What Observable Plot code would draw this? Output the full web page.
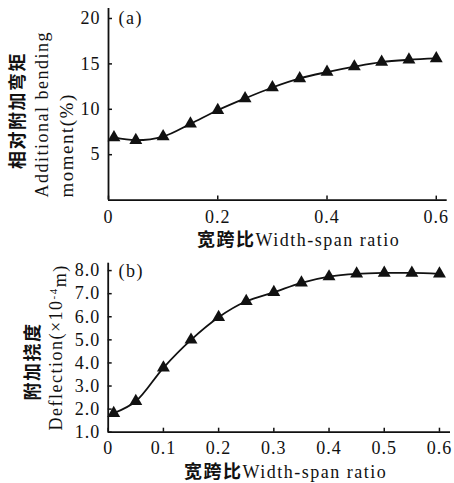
<!DOCTYPE html>
<html>
<head>
<meta charset="utf-8">
<script src="https://cdn.jsdelivr.net/npm/d3@7"></script>
<script src="https://cdn.jsdelivr.net/npm/@observablehq/plot@0.6"></script>
<style>
  html, body { margin: 0; padding: 0; background: #fff; }
  #chart svg { display: block; }
</style>
</head>
<body>
<div id="chart"></div>
<script>
// Width-span ratio (x) shared by both panels
const widthSpan = [0.01, 0.05, 0.1, 0.15, 0.2, 0.25, 0.3, 0.35, 0.4, 0.45, 0.5, 0.55, 0.6];
// (a) Additional bending moment (%)
const bendingMoment = [6.9, 6.6, 7.0, 8.4, 9.9, 11.2, 12.4, 13.4, 14.1, 14.7, 15.2, 15.45, 15.6];
// (b) Deflection (x10^-4 m)
const deflection = [1.82, 2.34, 3.79, 5.0, 5.98, 6.67, 7.06, 7.47, 7.74, 7.86, 7.9, 7.9, 7.86];

const xTicksA = [0, 0.2, 0.4, 0.6];
const yTicksA = [5, 10, 15, 20];
const xTicksB = [0, 0.1, 0.2, 0.3, 0.4, 0.5, 0.6];
const yTicksB = [1, 2, 3, 4, 5, 6, 7, 8];

const xTitleCn = "宽跨比";
const xTitleEn = "Width-span ratio";
const yTitleACn = "相对附加弯矩";
const yTitleAEn1 = "Additional bending";
const yTitleAEn2 = "moment(%)";
const yTitleBCn = "附加挠度";
const yTitleBEn = "Deflection(×10⁻⁴m)";

const dataA = widthSpan.map((x, i) => ({x, v: bendingMoment[i]}));
const dataB = widthSpan.map((x, i) => ({x, v: deflection[i]}));

const FONT = '"Liberation Serif", "Times New Roman", serif';
const CJK = '"Noto Sans CJK SC", sans-serif';
const fmtX = d => d === 0 ? "0" : d.toFixed(1);

function finish(svg) {
  const s = d3.select(svg);
  s.selectAll("g[aria-label='text'] text").style("letter-spacing", "1.5px");
  s.selectAll("g[aria-label$='tick label'] text").style("letter-spacing", "1px");
  // superscript exponent in the deflection unit
  s.selectAll("g[aria-label='text'] text").filter(function() { return this.textContent === yTitleBEn; })
    .each(function() {
      const [pre, post] = yTitleBEn.split("⁻⁴");
      const t = d3.select(this);
      t.text(null);
      t.append("tspan").text(pre);
      t.append("tspan").attr("dy", "-0.5em").attr("font-size", "11px").text("-4");
      t.append("tspan").attr("dy", "0.5em").text(post);
    });
  return svg;
}

const plotA = Plot.plot({
  width: 454, height: 250,
  marginLeft: 108, marginRight: 7.3, marginTop: 8, marginBottom: 50.4,
  x: {domain: [0, 0.62]},
  y: {domain: [0, 21.1]},
  style: {fontFamily: FONT, fontSize: "18px", color: "#111", background: "white"},
  marks: [
    Plot.axisX(xTicksA, {tickSize: -4, tickPadding: 14, tickFormat: fmtX, fontSize: 18, label: null, strokeWidth: 1.5}),
    Plot.axisY(yTicksA, {tickSize: -4, tickPadding: 12, fontSize: 18, label: null, strokeWidth: 1.5}),
    Plot.ruleX([0], {strokeWidth: 1.8}),
    Plot.ruleY([0], {strokeWidth: 1.8}),
    Plot.line(dataA, {x: "x", y: "v", curve: "catmull-rom", strokeWidth: 1.8, stroke: "#111"}),
    Plot.dot(dataA, {x: "x", y: "v", symbol: "triangle", r: 4.8, fill: "#111", stroke: null}),
    Plot.text(["(a)"], {text: d => d, frameAnchor: "top-left", dx: 10, dy: 10, textAnchor: "start", lineAnchor: "middle", fontSize: 18, fontFamily: FONT}),
    Plot.text([yTitleACn], {text: d => d, frameAnchor: "top-left", dx: -90, dy: 102, rotate: -90, textAnchor: "middle", lineAnchor: "middle", fontSize: 18, fontFamily: CJK, fontWeight: "bold"}),
    Plot.text([yTitleAEn1], {text: d => d, frameAnchor: "top-left", dx: -66, dy: 189, rotate: -90, textAnchor: "start", lineAnchor: "middle", fontSize: 18, fontFamily: FONT}),
    Plot.text([yTitleAEn2], {text: d => d, frameAnchor: "top-left", dx: -42, dy: 189, rotate: -90, textAnchor: "start", lineAnchor: "middle", fontSize: 19, fontFamily: FONT}),
    Plot.text([xTitleCn], {text: d => d, frameAnchor: "bottom-left", dx: 147, dy: 40.4, textAnchor: "end", lineAnchor: "middle", fontSize: 18, fontFamily: CJK, fontWeight: "bold"}),
    Plot.text([xTitleEn], {text: d => d, frameAnchor: "bottom-left", dx: 147, dy: 40.4, textAnchor: "start", lineAnchor: "middle", fontSize: 18, fontFamily: FONT})
  ]
});

const plotB = Plot.plot({
  width: 454, height: 233,
  marginLeft: 107.7, marginRight: 4, marginTop: 12.7, marginBottom: 51.3,
  x: {domain: [0, 0.62]},
  y: {domain: [1, 8.32]},
  style: {fontFamily: FONT, fontSize: "18px", color: "#111", background: "white"},
  marks: [
    Plot.axisX(xTicksB, {tickSize: -4, tickPadding: 13, tickFormat: fmtX, fontSize: 18, label: null, strokeWidth: 1.5}),
    Plot.axisY(yTicksB, {tickSize: -4, tickPadding: 12, tickFormat: d => d.toFixed(1), fontSize: 18, label: null, strokeWidth: 1.5}),
    Plot.ruleX([0], {strokeWidth: 1.8}),
    Plot.ruleY([1], {strokeWidth: 1.8}),
    Plot.line(dataB, {x: "x", y: "v", curve: "catmull-rom", strokeWidth: 1.8, stroke: "#111"}),
    Plot.dot(dataB, {x: "x", y: "v", symbol: "triangle", r: 4.8, fill: "#111", stroke: null}),
    Plot.text(["(b)"], {text: d => d, frameAnchor: "top-left", dx: 10.3, dy: 8, textAnchor: "start", lineAnchor: "middle", fontSize: 18, fontFamily: FONT}),
    Plot.text([yTitleBCn], {text: d => d, frameAnchor: "top-left", dx: -74.7, dy: 98.3, rotate: -90, textAnchor: "middle", lineAnchor: "middle", fontSize: 18, fontFamily: CJK, fontWeight: "bold"}),
    Plot.text([yTitleBEn], {text: d => d, frameAnchor: "top-left", dx: -51.7, dy: 167.3, rotate: -90, textAnchor: "start", lineAnchor: "middle", fontSize: 18, fontFamily: FONT}),
    Plot.text([xTitleCn], {text: d => d, frameAnchor: "bottom-left", dx: 134.3, dy: 40.3, textAnchor: "end", lineAnchor: "middle", fontSize: 18, fontFamily: CJK, fontWeight: "bold"}),
    Plot.text([xTitleEn], {text: d => d, frameAnchor: "bottom-left", dx: 134.3, dy: 40.3, textAnchor: "start", lineAnchor: "middle", fontSize: 18, fontFamily: FONT})
  ]
});

const root = document.getElementById("chart");
root.appendChild(finish(plotA));
root.appendChild(finish(plotB));
</script>
</body>
</html>
